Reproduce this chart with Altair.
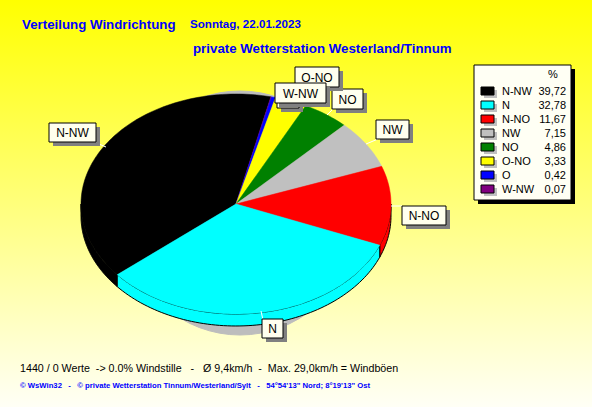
import math
import altair as alt
import pandas as pd

# ---- values ----
names = ["N-NW", "N", "N-NO", "NW", "NO", "O-NO", "O", "W-NW"]
shares = [39.72, 32.78, 11.67, 7.15, 4.86, 3.33, 0.42, 0.07]
labels_txt = ["39,72", "32,78", "11,67", "7,15", "4,86", "3,33", "0,42", "0,07"]
colors = ["#000000", "#00ffff", "#ff0000", "#c0c0c0", "#008000", "#ffff00", "#0000ff", "#800080"]
# clockwise drawing order round the pie
pie_order = ["N-NW", "W-NW", "O", "O-NO", "NO", "NW", "N-NO", "N"]

# ---- layout ----
W, H = 592, 407
CX, CY, RX, RY, DEPTH = 236, 204, 155, 110, 12
START = 230.0
FONT = "Liberation Sans"
NB = "\u00a0"
BOX = {  # x0, x1, y0, y1
    "N-NW": (49, 96, 123, 142), "N": (262, 283, 319, 338), "N-NO": (402, 446, 206, 225),
    "NW": (376, 409, 120, 139), "NO": (332, 363, 89, 109), "O-NO": (295, 339, 67, 87),
    "O": (277, 299, 95, 108), "W-NW": (275, 326, 83, 103),
}
LEAD = {"N-NW": (99, 144, 106, 147), "N": (261, 311, 263, 320), "N-NO": (391, 206, 402, 206),
        "NW": (366, 144, 378, 139), "NO": (327, 115, 333, 109)}

xs = alt.Scale(domain=[0, W], range=[0, W])
ys = alt.Scale(domain=[0, H], range=[0, H])
X = lambda f: alt.X(f, type="quantitative", scale=xs, axis=None)
Y = lambda f: alt.Y(f, type="quantitative", scale=ys, axis=None)


def pt(a, dy=0):
    r = math.radians(a)
    return CX + RX * math.sin(r), CY - RY * math.cos(r) + dy


share_of = dict(zip(names, shares))
color_of = dict(zip(names, colors))

faces, sides = [], []
a = START
for n in pie_order:
    b = a + share_of[n] * 3.6
    steps = max(2, int((b - a) / 1.5))
    arc = [a + (b - a) * i / steps for i in range(steps + 1)]
    poly = [(CX, CY)] + [pt(t) for t in arc] + [(CX, CY)]
    for i, (x, y) in enumerate(poly):
        faces.append({"n": n, "i": i, "x": x, "y": y})
    # the part of the rim that faces the viewer
    for turn in (0, 360):
        lo, hi = max(a - turn, 90), min(b - turn, 270)
        if lo < hi:
            s = [lo + (hi - lo) * i / steps for i in range(steps + 1)]
            ring = [pt(t) for t in s] + [pt(t, DEPTH) for t in reversed(s)]
            ring.append(ring[0])
            for i, (x, y) in enumerate(ring):
                sides.append({"n": n, "i": i, "x": x, "y": y})
    a = b

fill_scale = alt.Scale(domain=names, range=colors)


def poly_layer(rows, **kw):
    return alt.Chart(pd.DataFrame(rows)).mark_line(interpolate="linear", **kw).encode(
        x=X("x"), y=Y("y"), order=alt.Order("i:Q"), detail="n:N",
    )


layers = []

# background
layers.append(
    alt.Chart(pd.DataFrame({"a": [0], "b": [W], "c": [0], "d": [H]})).mark_rect(
        color=alt.LinearGradient(
            gradient="linear", x1=0, x2=0, y1=0, y2=1,
            stops=[alt.GradientStop(offset=0, color="#ffff00"),
                   alt.GradientStop(offset=1, color="#fffff6")],
        )
    ).encode(x=X("a"), x2="b", y=Y("c"), y2="d")
)

# grey shadow under the pie
sh = [{"n": "s", "i": i, "x": 240 + 118 * math.sin(math.radians(i * 5)),
       "y": 213 - 122 * math.cos(math.radians(i * 5))} for i in range(73)]
layers.append(poly_layer(sh, fill="#bdbdbd", stroke="#bdbdbd", strokeWidth=1))

# rim, then faces
for n in pie_order:
    rows = [r for r in sides if r["n"] == n]
    if rows:
        layers.append(poly_layer(rows, fill=color_of[n], stroke="#000000", strokeWidth=1))
for n in pie_order:
    rows = [r for r in faces if r["n"] == n]
    layers.append(poly_layer(rows, fill=color_of[n], stroke=color_of[n], strokeWidth=0.5))

# leader lines
lead = pd.DataFrame([{"a": v[0], "b": v[1], "c": v[2], "d": v[3]} for v in LEAD.values()])
layers.append(alt.Chart(lead).mark_rule(color="#ffffff", strokeWidth=1).encode(
    x=X("a"), y=Y("b"), x2="c", y2="d"))

# label boxes
for n in ["N-NW", "N", "N-NO", "NW", "NO", "O-NO", "O", "W-NW"]:
    x0, x1, y0, y1 = BOX[n]
    d = pd.DataFrame({"a": [x0], "b": [x1], "c": [y0], "d": [y1], "s": [n],
                      "a2": [x0 + 4], "b2": [x1 + 4], "c2": [y0 + 4], "d2": [y1 + 4],
                      "m": [(x0 + x1) / 2], "v": [(y0 + y1) / 2 + 0.5]})
    base = alt.Chart(d)
    layers.append(base.mark_rect(color="#808080").encode(x=X("a2"), x2="b2", y=Y("c2"), y2="d2"))
    layers.append(base.mark_rect(fill="#ffffee", stroke="#000000", strokeWidth=1).encode(
        x=X("a"), x2="b", y=Y("c"), y2="d"))
    layers.append(base.mark_text(font=FONT, fontSize=12, color="#000000", baseline="middle").encode(
        x=X("m"), y=Y("v"), text="s:N"))

# legend panel
panel = pd.DataFrame({"a": [474], "b": [571], "c": [65], "d": [200],
                      "a2": [478], "b2": [575], "c2": [69], "d2": [204]})
layers.append(alt.Chart(panel).mark_rect(color="#000000").encode(x=X("a2"), x2="b2", y=Y("c2"), y2="d2"))
layers.append(alt.Chart(panel).mark_rect(fill="#fffff4", stroke="#000000", strokeWidth=1).encode(
    x=X("a"), x2="b", y=Y("c"), y2="d"))
leg = pd.DataFrame({"n": names, "t": labels_txt, "row": range(8)})
leg = leg.assign(y0=leg.row * 14 + 87, y1=leg.row * 14 + 95, ys0=leg.row * 14 + 90, ys1=leg.row * 14 + 98,
                 yt=leg.row * 14 + 91.5, a=481, b=494, a2=484, b2=497, nx=502, vx=566)
lb = alt.Chart(leg)
layers.append(lb.mark_rect(color="#c0c0c0").encode(x=X("a2"), x2="b2", y=Y("ys0"), y2="ys1"))
layers.append(lb.mark_rect(stroke="#000000", strokeWidth=1).encode(
    x=X("a"), x2="b", y=Y("y0"), y2="y1",
    fill=alt.Fill("n:N", scale=fill_scale, legend=None)))
layers.append(lb.mark_text(font=FONT, fontSize=11, align="left", baseline="middle", color="#000000").encode(
    x=X("nx"), y=Y("yt"), text="n:N"))
layers.append(lb.mark_text(font=FONT, fontSize=11, align="right", baseline="middle", color="#000000").encode(
    x=X("vx"), y=Y("yt"), text="t:N"))


def text(s, x, y, size, color="#000000", bold=False, align="left"):
    d = pd.DataFrame({"s": [s.replace(" ", NB)], "x": [x], "y": [y]})
    return alt.Chart(d).mark_text(
        font=FONT, fontSize=size, color=color, align=align, baseline="middle",
        fontWeight="bold" if bold else "normal",
    ).encode(x=X("x"), y=Y("y"), text="s:N")


layers.append(text("%", 553, 75, 11, align="center"))
layers.append(text("Verteilung Windrichtung", 22, 25, 13.3, "#0000ff", True))
layers.append(text("Sonntag, 22.01.2023", 190, 25, 11.6, "#0000ff", True))
layers.append(text("private Wetterstation Westerland/Tinnum", 193, 49, 13.3, "#0000ff", True))
layers.append(text("1440 / 0 Werte  -> 0.0% Windstille   -   Ø 9,4km/h  -  Max. 29,0km/h = Windböen", 20, 369, 10.7))
layers.append(text("© WsWin32   -   © private Wetterstation Tinnum/Westerland/Sylt   -   54°54'13\" Nord; 8°19'13\" Ost",
                   20, 386, 7.7, "#0000ff", True))

chart = alt.layer(*layers).properties(
    width=W, height=H, padding=0,
    autosize=alt.AutoSizeParams(type="none"),
).configure_view(stroke=None)

chart.save("out.html", embed_options={"renderer": "svg", "actions": False,
                                      "defaultStyle": "body{margin:0!important;overflow:hidden}svg{display:block}"})
